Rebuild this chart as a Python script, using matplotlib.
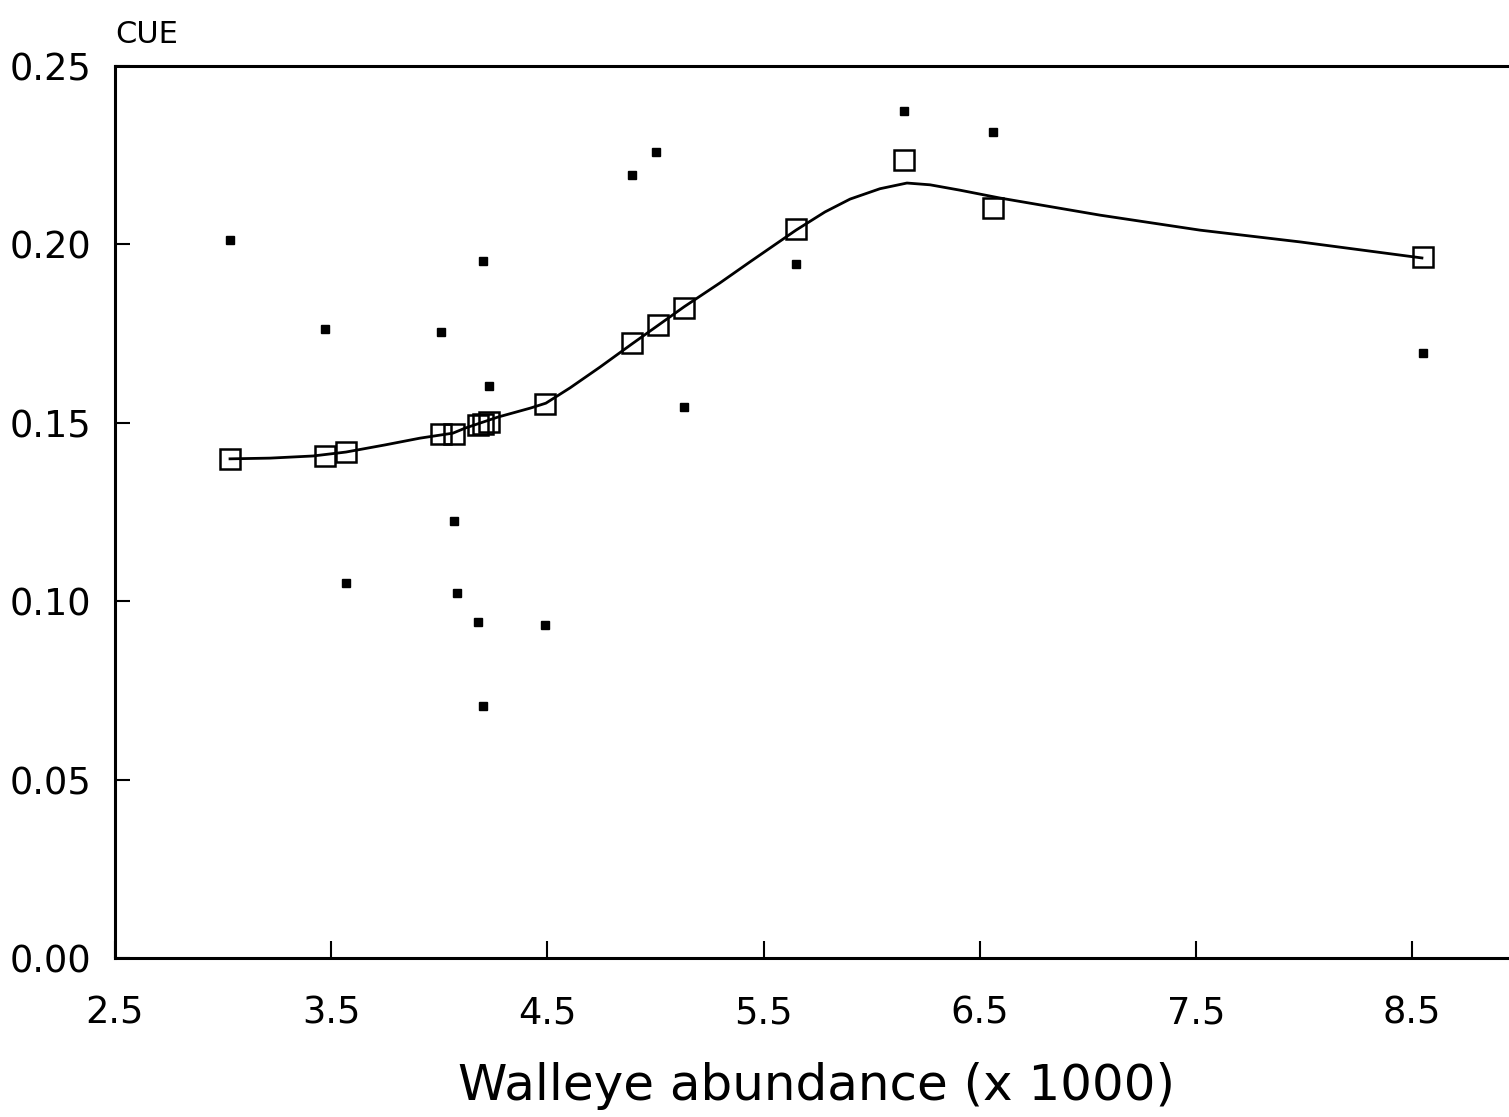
import matplotlib
matplotlib.use("Agg")
import matplotlib.pyplot as plt

# Observed points (dots)
obs_x = [3.03, 3.47, 3.57, 4.01, 4.07, 4.08, 4.18, 4.20, 4.20, 4.23, 4.49, 4.89, 5.00, 5.13, 5.65, 6.15, 6.56, 8.55]
obs_y = [0.2012, 0.1763, 0.1051, 0.1754, 0.1225, 0.1023, 0.0942, 0.1953, 0.0706, 0.1603, 0.0933, 0.2194, 0.2259, 0.1544, 0.1945, 0.2374, 0.2315, 0.1696]

# Fitted values (open squares)
fit_x = [3.03, 3.47, 3.57, 4.01, 4.07, 4.18, 4.20, 4.23, 4.49, 4.89, 5.01, 5.13, 5.65, 6.15, 6.56, 8.55]
fit_y = [0.1399, 0.1407, 0.1418, 0.1469, 0.1469, 0.1494, 0.1497, 0.1502, 0.1553, 0.1724, 0.1774, 0.1822, 0.2043, 0.2237, 0.2102, 0.1965]

# Smooth curve
curve_x = [3.032, 3.217, 3.416, 3.568, 3.749, 3.911, 4.063, 4.119, 4.271, 4.420, 4.493, 4.605, 4.743,
           4.891, 5.007, 5.132, 5.298, 5.437, 5.650, 5.784, 5.900, 6.038, 6.163, 6.270, 6.408, 6.593,
           7.056, 7.518, 7.981, 8.545]
curve_y = [0.1399, 0.1401, 0.1407, 0.1418, 0.1438, 0.1457, 0.1471, 0.1485, 0.1516, 0.1541, 0.1555, 0.1598, 0.1656,
           0.1721, 0.1771, 0.1825, 0.1892, 0.1951, 0.2040, 0.2091, 0.2127, 0.2156, 0.2172, 0.2167, 0.2152, 0.2130,
           0.2082, 0.2040, 0.2007, 0.1962]

x_ticks = [2.5, 3.5, 4.5, 5.5, 6.5, 7.5, 8.5]
x_ticklabels = ["2.5", "3.5", "4.5", "5.5", "6.5", "7.5", "8.5"]
y_ticks = [0.00, 0.05, 0.10, 0.15, 0.20, 0.25]
y_ticklabels = ["0.00", "0.05", "0.10", "0.15", "0.20", "0.25"]

W, H = 1509, 1117
fig = plt.figure(figsize=(W / 100, H / 100), dpi=100)
left, right, top, bottom = 115, 1509, 66, 958
ax = fig.add_axes([left / W, (H - bottom) / H, (right - left) / W, (bottom - top) / H])

ax.plot(curve_x, curve_y, color="black", lw=2.0, zorder=2, solid_joinstyle="round")
ax.plot(fit_x, fit_y, linestyle="none", marker="s", markersize=15, markerfacecolor="none",
        markeredgecolor="black", markeredgewidth=1.8, zorder=3)
ax.plot(obs_x, obs_y, linestyle="none", marker="s", markersize=5.5, color="black", zorder=3)

ax.set_xlim(2.5, 2.5 + (right - left) / 216.2)
ax.set_ylim(0.0, 0.25)
ax.set_xticks(x_ticks)
ax.set_xticklabels(x_ticklabels)
ax.set_yticks(y_ticks)
ax.set_yticklabels(y_ticklabels)
ax.tick_params(axis="x", direction="in", length=12, width=1.5, pad=26, labelsize=26.5)
ax.tick_params(axis="y", direction="in", length=11, width=1.5, pad=17, labelsize=26.5)
for s in ["left", "bottom", "top"]:
    ax.spines[s].set_linewidth(2.2)
ax.spines["right"].set_visible(False)

ax.text(0.0, 1.0258, "CUE", transform=ax.transAxes, ha="left", va="baseline", fontsize=22)
fig.text(817 / W, (H - 1100) / H, "Walleye abundance (x 1000)", ha="center", va="baseline", fontsize=36)

fig.savefig("out.png", dpi=100)
